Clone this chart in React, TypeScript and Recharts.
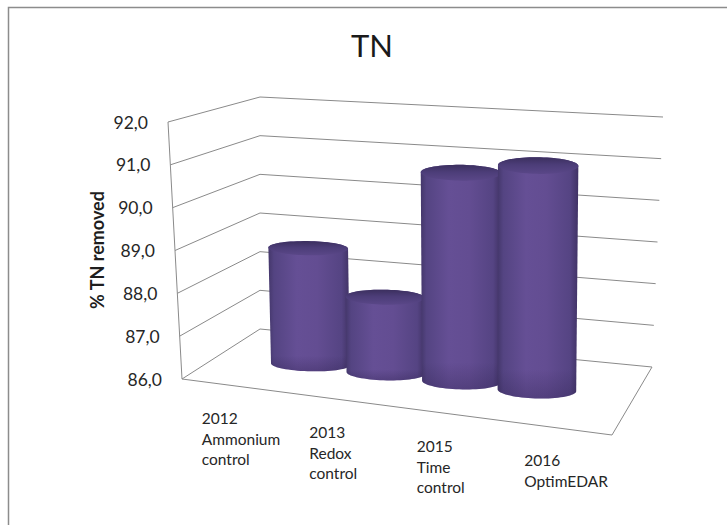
import React from 'react';
import { ComposedChart, Bar, XAxis, YAxis, CartesianGrid } from 'recharts';

// ---- data ----
const years = ['2012', '2013', '2015', '2016'];
const strategies = [['Ammonium', 'control'], ['Redox', 'control'], ['Time', 'control'], ['OptimEDAR']];
const tnRemoved = [88.8, 87.8, 90.9, 91.2];
const yTicks = [86, 87, 88, 89, 90, 91, 92];

const data = years.map((year, i) => ({ year, lines: [year, ...strategies[i]], tn: tnRemoved[i] }));

// ---- layout ----
const CHART_W = 727;
const CHART_H = 525;
const PLOT_LEFT = 182;
const PLOT_TOP = 122;
const PLOT_RIGHT = 612;
const PLOT_BOTTOM = 379;
const PLOT_W = PLOT_RIGHT - PLOT_LEFT;
const PLOT_H = PLOT_BOTTOM - PLOT_TOP;
const Y_AXIS_W = 60;
const X_AXIS_H = 30;
const FONT = "Lato, 'Open Sans', 'DejaVu Sans', sans-serif";
const TEXT = '#262626';

type Pt = [number, number];

// Corners of the 3-D box (Front/Back, Left/Right, Bottom/Top) in screen space.
const FLB: Pt = [182, 379];
const FLT: Pt = [168, 122];
const BLB: Pt = [260, 329];
const BLT: Pt = [260, 97];
const FRB: Pt = [612, 435];
const FRT: Pt = [609, 158];
const BRB: Pt = [652, 367];
const BRT: Pt = [663, 117];

const lerp = (a: Pt, b: Pt, k: number): Pt => [a[0] + (b[0] - a[0]) * k, a[1] + (b[1] - a[1]) * k];

// u: along the categories (0 left .. 1 right), d: depth (0 front .. 1 back), t: value fraction (0 floor .. 1 top)
function project(u: number, d: number, t: number): Pt {
  const fl = lerp(FLB, FLT, t);
  const bl = lerp(BLB, BLT, t);
  const fr = lerp(FRB, FRT, t);
  const br = lerp(BRB, BRT, t);
  return lerp(lerp(fl, bl, d), lerp(fr, br, d), u);
}

const fracFromY = (y: number) => (PLOT_BOTTOM - y) / PLOT_H;
const pathOf = (pts: Pt[], close = false) =>
  pts.map((p, i) => `${i ? 'L' : 'M'}${p[0].toFixed(2)},${p[1].toFixed(2)}`).join(' ') + (close ? ' Z' : '');

function convexHull(points: Pt[]): Pt[] {
  const pts = [...points].sort((a, b) => a[0] - b[0] || a[1] - b[1]);
  const cross = (o: Pt, a: Pt, b: Pt) => (a[0] - o[0]) * (b[1] - o[1]) - (a[1] - o[1]) * (b[0] - o[0]);
  const lower: Pt[] = [];
  for (const p of pts) {
    while (lower.length >= 2 && cross(lower[lower.length - 2], lower[lower.length - 1], p) <= 0) lower.pop();
    lower.push(p);
  }
  const upper: Pt[] = [];
  for (let i = pts.length - 1; i >= 0; i--) {
    const p = pts[i];
    while (upper.length >= 2 && cross(upper[upper.length - 2], upper[upper.length - 1], p) <= 0) upper.pop();
    upper.push(p);
  }
  upper.pop();
  lower.pop();
  return lower.concat(upper);
}

// Wall gridlines: side wall (front-left edge to back corner) then back wall.
const WallLine = (props: any) => {
  const t = fracFromY(props.y1);
  const pts = [project(0, 0, t), project(0, 1, t), project(1, 1, t)];
  const isFloor = Math.abs(t) < 1e-3;
  return (
    <g key={props.key}>
      <path d={pathOf(pts)} fill="none" stroke="#8a8a8a" strokeWidth={1} />
      {isFloor && (
        <>
          <path d={pathOf([project(0, 0, 0), project(1, 0, 0), project(1, 1, 0)])} fill="none" stroke="#8a8a8a" strokeWidth={1} />
          <path d={pathOf([project(0, 0, 0), project(0, 0, 1)])} fill="none" stroke="#8a8a8a" strokeWidth={1} />
        </>
      )}
    </g>
  );
};

const ValueTick = (props: any) => {
  const { y, payload } = props;
  const edge = project(0, 0, fracFromY(y));
  return (
    <text x={edge[0] - 20} y={edge[1]} textAnchor="end" dominantBaseline="central"
      fontFamily={FONT} fontSize={17.5} fill={TEXT}>
      {Number(payload.value).toFixed(1).replace('.', ',')}
    </text>
  );
};

const CategoryTick = (props: any) => {
  const { x, index } = props;
  const front = project((x - PLOT_LEFT) / PLOT_W, 0, 0);
  const lines: string[] = data[index]?.lines ?? [];
  const x0 = front[0] - 34;
  const y0 = front[1] + 32;
  return (
    <text x={x0} y={y0} fontFamily={FONT} fontSize={15.5} fill={TEXT} dominantBaseline="central">
      {lines.map((ln, i) => (
        <tspan key={i} x={x0} y={y0 + i * 20.5}>{ln}</tspan>
      ))}
    </text>
  );
};

const DEPTH_R = 0.13;
const WIDTH_K = 1.04;

const Cylinder = (props: any) => {
  const { x, y, width, height, index } = props;
  if (width == null || height == null) return null;
  const uc = (x + width / 2 - PLOT_LEFT) / PLOT_W;
  const hu = (width / 2 / PLOT_W) * WIDTH_K;
  const tTop = fracFromY(y);
  const tBase = fracFromY(y + height);

  const f0 = project(uc, 0.5 - DEPTH_R, 0);
  const f1 = project(uc, 0.5 + DEPTH_R, 0);
  const D: Pt = [((f1[0] - f0[0]) / 2) * 0.3, (f1[1] - f0[1]) / 2];

  const ring = (t: number): Pt[] => {
    const c = project(uc, 0.5, t);
    const a = project(uc - hu, 0.5, t);
    const b = project(uc + hu, 0.5, t);
    const U: Pt = [(b[0] - a[0]) / 2, ((b[1] - a[1]) / 2) * 0.3];
    const pts: Pt[] = [];
    for (let k = 0; k < 72; k++) {
      const th = (k / 72) * Math.PI * 2;
      pts.push([c[0] + Math.cos(th) * U[0] + Math.sin(th) * D[0], c[1] + Math.cos(th) * U[1] + Math.sin(th) * D[1]]);
    }
    return pts;
  };

  const top = ring(tTop);
  const base = ring(tBase);
  const hull = convexHull([...top, ...base]);
  const id = `cyl${index}`;
  return (
    <g>
      <defs>
        <linearGradient id={`${id}-body`} x1="0" y1="0" x2="1" y2="0">
          <stop offset="0" stopColor="#44376b" />
          <stop offset="0.07" stopColor="#544482" />
          <stop offset="0.35" stopColor="#654f95" />
          <stop offset="0.6" stopColor="#634d92" />
          <stop offset="0.9" stopColor="#554483" />
          <stop offset="1" stopColor="#403264" />
        </linearGradient>
        <linearGradient id={`${id}-shade`} x1="0" y1="0" x2="0" y2="1">
          <stop offset="0" stopColor="#2a1d4a" stopOpacity="0" />
          <stop offset="0.88" stopColor="#2a1d4a" stopOpacity="0" />
          <stop offset="1" stopColor="#2a1d4a" stopOpacity="0.3" />
        </linearGradient>
        <linearGradient id={`${id}-top`} x1="0" y1="0" x2="0" y2="1">
          <stop offset="0" stopColor="#3b2f5e" />
          <stop offset="0.45" stopColor="#4c3d78" />
          <stop offset="1" stopColor="#5a4788" />
        </linearGradient>
      </defs>
      <path d={pathOf(hull, true)} fill={`url(#${id}-body)`} />
      <path d={pathOf(hull, true)} fill={`url(#${id}-shade)`} />
      <path d={pathOf(top, true)} fill={`url(#${id}-top)`} />
    </g>
  );
};

const Blank = () => <g />;

export default function App() {
  return (
    <div style={{ position: 'absolute', left: 0, top: 0, width: CHART_W, height: CHART_H, background: '#fff' }}>
      <ComposedChart
        width={CHART_W}
        height={CHART_H}
        data={data}
        barCategoryGap={0}
        margin={{
          top: PLOT_TOP,
          right: CHART_W - PLOT_RIGHT,
          bottom: CHART_H - PLOT_BOTTOM - X_AXIS_H,
          left: PLOT_LEFT - Y_AXIS_W,
        }}
      >
        <CartesianGrid vertical={false} horizontal={(p: any) => <WallLine {...p} />} />
        <XAxis xAxisId="bars" dataKey="year" hide padding={{ left: 54, right: 60 }} />
        <XAxis xAxisId="labels" dataKey="year" height={X_AXIS_H} axisLine={false} tickLine={false}
          tick={<CategoryTick />} interval={0} />
        <YAxis
          type="number"
          domain={[86, 92]}
          ticks={yTicks}
          width={Y_AXIS_W}
          axisLine={false}
          tickLine={false}
          tick={<ValueTick />}
          label={{
            content: () => (
              <text x={97} y={250} transform="rotate(-90, 97, 250)" textAnchor="middle" dominantBaseline="central"
                fontFamily={FONT} fontSize={18} fontWeight="bold" fill="#1e1e1e">
                % TN removed
              </text>
            ),
          }}
        />
        <Bar xAxisId="labels" dataKey="tn" shape={<Blank />} isAnimationActive={false} />
        <Bar xAxisId="bars" dataKey="tn" shape={<Cylinder />} isAnimationActive={false} />
      </ComposedChart>
      <svg width={CHART_W} height={CHART_H} style={{ position: 'absolute', left: 0, top: 0, pointerEvents: 'none' }}>
        <path d="M8.5,525 L8.5,7.5 L727,7.5" fill="none" stroke="#8c8c8c" strokeWidth={1.5} />
        <text x={372} y={57} textAnchor="middle" fontFamily={FONT} fontSize={31} fill="#1a1a1a">TN</text>
      </svg>
    </div>
  );
}
